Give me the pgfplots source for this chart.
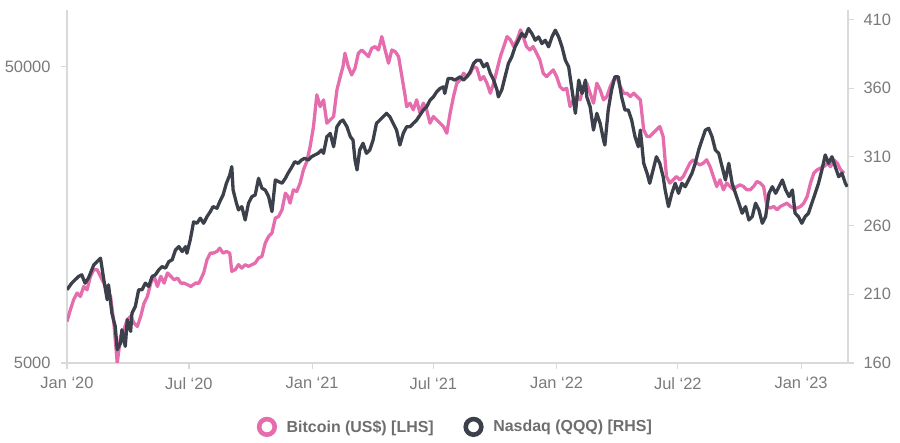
\documentclass[border=0pt]{standalone}
\usepackage{fontspec}
\setmainfont{Liberation Sans}
\usepackage{pgfplots}
\usepackage{pgfplotstable}
\pgfplotsset{compat=1.18}
\definecolor{btc}{HTML}{E56DAE}
\definecolor{nas}{HTML}{3C404B}
\definecolor{axgray}{HTML}{D9D9D9}
\definecolor{lblgray}{HTML}{7A7A7A}
\definecolor{leggray}{HTML}{6E6E6E}

\pgfplotstableread{
day value
0 6900
5 7560
10 8180
15 8610
20 8380
25 9060
30 8830
35 9800
40 10320
45 10320
50 9800
55 9300
60 8830
65 8380
70 6820
75 5000
80 6150
85 6470
90 7000
95 7180
100 6820
105 6640
110 7180
115 7960
120 8380
125 9300
130 9800
135 9060
140 9800
145 9300
150 10060
155 9800
160 9540
165 9670
170 9300
175 9300
180 9180
185 9060
192 9300
197 9300
204 10060
209 11150
214 11740
218 11740
224 11890
228 12210
233 11740
238 11890
243 11740
246 10190
251 10320
256 10730
261 10450
266 10730
271 10590
276 10730
281 10870
286 11300
291 11440
296 12700
301 13360
306 13720
311 15410
316 15610
321 16440
326 18710
330 18220
333 17310
338 19200
343 18950
348 20230
353 22420
358 23910
363 26870
368 31390
373 40150
378 36650
383 38620
388 32220
393 33060
398 33920
403 41740
408 46270
412 50000
415 55490
420 50000
425 46880
430 49380
435 55490
440 56900
445 55490
450 54060
455 57670
460 58410
465 56900
470 63110
475 56900
480 51350
485 56900
490 56160
495 54060
500 46270
505 39620
507 36650
512 37640
517 35730
522 38620
527 34830
532 37640
537 35730
542 32220
547 33920
552 33060
557 32220
562 31390
567 29820
572 34830
577 39620
582 43950
587 45100
592 47510
597 46270
602 47510
607 50000
612 49380
617 45100
622 46270
627 43950
632 40680
637 43950
642 48740
647 54060
652 58410
657 63110
662 61520
667 58410
672 61520
677 66500
681 63110
686 58410
691 56900
696 58410
701 55490
706 52670
711 47510
716 46270
721 47510
726 48740
731 46270
736 42800
741 41740
746 42270
751 36650
756 38620
761 39620
766 38620
771 42800
776 43950
781 40680
786 37640
791 43950
796 41740
801 38620
806 39620
811 42800
816 45100
821 46270
826 42800
831 40680
836 40680
841 39620
846 40680
851 39620
856 38620
861 30590
866 29030
870 29030
875 29820
880 30590
885 31390
890 29030
895 21290
900 20230
905 20750
910 21290
915 20750
920 21290
925 22420
930 23620
935 24240
940 23620
945 23310
950 23620
955 24240
960 23000
965 21290
970 19700
975 20750
980 19200
985 20230
990 19700
995 19200
1000 19700
1005 19960
1010 19700
1015 19200
1020 19200
1025 19700
1030 20480
1035 20230
1040 19700
1045 16870
1050 16660
1055 16870
1060 16440
1065 16870
1070 17090
1075 17310
1080 16870
1085 16660
1090 16660
1095 16870
1100 17310
1105 18220
1110 20230
1115 21860
1120 22420
1125 22720
1130 23000
1135 23620
1140 23000
1145 24240
1150 23620
1155 22420
1160 21860
}\btcdata

\pgfplotstableread{
day value
0 213.3
7 218.1
17 222.9
22 224.2
27 218.1
32 221.8
40 231.4
50 236.3
55 220.5
60 206
62 216.9
67 196.3
72 186.6
75 169.7
80 174.5
82 184.2
87 172.1
90 191.5
95 183
97 196.3
102 201.1
107 213.3
112 213.3
117 218.1
122 215.7
127 222.9
132 224.2
137 227.8
142 230.2
147 229
152 233.8
157 235.1
162 242.3
167 244.7
172 241.1
177 244.7
179 239.9
184 249.6
189 262.7
194 261.7
199 265.4
204 261.7
209 266.5
214 270.2
218 273.8
224 272.6
228 277.4
233 282.3
238 290.8
243 296.8
246 302.9
248 285.9
253 276.3
256 271.4
261 273.8
266 264.1
271 276.3
276 281.1
281 282.3
286 294.4
291 287.2
296 285.9
301 281.1
306 270.2
311 293.2
316 292
321 290.8
326 294.4
330 298.1
336 302.9
340 306.5
345 305.3
350 307.7
355 309
360 307.7
365 310.1
370 311.4
375 312.6
380 315
383 312.6
388 324.7
393 327.1
398 317.4
403 331.9
408 335.6
412 336.8
418 331.9
423 324.7
427 322.3
430 307.7
433 300.5
437 315
442 319.9
447 312.6
452 315
457 322.3
462 334.4
467 336.8
472 339.2
477 341.7
482 339.2
487 334.4
492 329.5
497 318.6
502 327.1
507 331.9
512 331.9
517 334.4
522 336.8
527 340.4
532 344.1
537 346.5
542 351.3
547 353.7
552 357.4
557 359.8
562 361
564 356.2
569 367.1
574 367.1
579 365.9
587 368.3
592 365.9
597 368.3
602 371.9
607 378
612 380.4
617 380.4
622 375.5
627 378
632 370.7
637 365.9
642 358.6
644 353.7
649 358.6
654 368.3
659 378
664 382.8
669 390.1
674 394.9
679 399.8
684 397.3
689 403.4
694 399.8
699 394.9
704 397.3
709 392.5
714 394.9
719 390.1
724 397.3
729 402.2
734 397.3
739 390.1
744 380.4
749 375.5
754 358.6
759 341.7
764 365.9
769 356.2
774 365.9
776 353.7
781 346.5
786 329.5
791 341.7
796 334.4
801 322.3
803 318.6
808 344.1
813 358.6
818 368.3
823 368.3
828 353.7
833 344.1
838 344.1
843 336.8
848 324.7
853 317.4
856 329.5
861 305.3
866 298.1
870 290.8
875 300.5
880 310.1
885 305.3
890 295.6
893 285.9
898 273.8
903 283.5
908 290.8
913 283.5
918 290.8
923 288.3
928 293.2
933 298.1
938 305.3
943 315
948 322.3
953 329.5
958 330.8
963 324.7
968 315
973 312.6
978 302.9
983 293.2
988 305.3
993 290.8
998 283.5
1003 276.3
1008 269
1013 273.8
1018 264.1
1023 266.5
1028 276.3
1033 271.4
1038 261.7
1043 266.5
1048 283.5
1053 288.3
1058 283.5
1063 288.3
1068 293.2
1073 285.9
1078 281.1
1083 285.9
1087 269
1092 266.5
1097 261.7
1102 266.5
1107 269
1112 276.3
1117 283.5
1122 290.8
1127 300.5
1132 311.4
1137 305.3
1142 310.1
1147 302.9
1152 295.6
1157 298.1
1162 290.8
1165 288.3
}\nasdata

\pgfplotsset{
  base/.style={
    scale only axis, width=781bp, height=353bp,
    at={(67bp,80bp)}, anchor=south west,
    xmin=0, xmax=1166,
    tick align=outside, major tick length=6bp,
    axis line style={draw=axgray, line width=1.2bp},
    every tick/.style={draw=axgray, line width=1.2bp},
    ticklabel style={font=\fontsize{16.5}{16.5}\selectfont, text=lblgray},
    xticklabel style={yshift=-5bp},
  },
}

\begin{document}
\begin{tikzpicture}
\path[use as bounding box] (0,0) rectangle (900bp,443bp);
\begin{axis}[base,
  ymode=log, ymin=5000, ymax=77650,
  axis x line*=bottom, axis y line*=left,
  ytick={5000,50000}, yticklabels={5000,50000}, yminorticks=false,
  yticklabel style={xshift=-7bp},
  xtick={0,182,366,547,731,912,1096},
  xticklabels={Jan ‘20,Jul ‘20,Jan ‘21,Jul ‘21,Jan ‘22,Jul ‘22,Jan ‘23},
]
\addplot[btc, line width=3.3bp, line join=round, no markers] table[x=day,y=value] {\btcdata};
\end{axis}
\begin{axis}[base,
  ymin=160, ymax=416.9,
  axis x line=none, axis y line*=right,
  ytick={160,210,260,310,360,410}, yticklabels={160,210,260,310,360,410},
  yticklabel style={xshift=6bp},
  legend style={at={(0.4987,-0.181)}, anchor=center, draw=none, fill=none,
    legend columns=2, font=\fontsize{16}{16}\selectfont\bfseries, text=leggray,
    /tikz/every even column/.append style={column sep=30bp},
    /tikz/every odd column/.append style={column sep=10bp}},
  legend cell align=left,
]
\addlegendimage{only marks, mark=o, mark size=7.8bp, mark options={line width=4.6bp, draw=btc}}
\addlegendentry{Bitcoin (US\$) [LHS]}
\addlegendimage{only marks, mark=o, mark size=7.8bp, mark options={line width=4.6bp, draw=nas}}
\addlegendentry{Nasdaq (QQQ) [RHS]}
\addplot[nas, line width=3.3bp, line join=round, no markers, forget plot] table[x=day,y=value] {\nasdata};
\end{axis}
\end{tikzpicture}
\end{document}
